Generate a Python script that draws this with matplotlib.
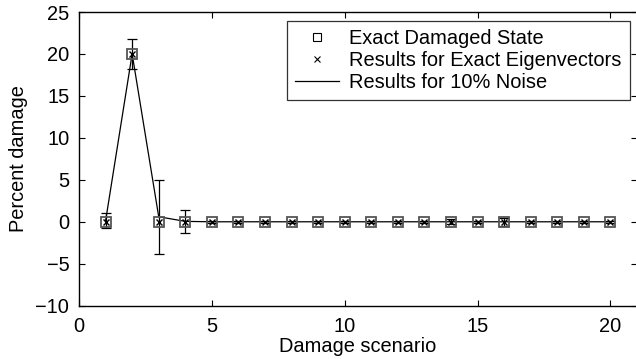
import matplotlib
matplotlib.use("Agg")
import matplotlib.pyplot as plt
from matplotlib.lines import Line2D

plt.rcParams['font.family'] = ['Liberation Sans', 'DejaVu Sans']

# data
scenarios = list(range(1, 21))
exact_state = [0, 20] + [0] * 18
exact_eigvec = [0, 20] + [0] * 18
noise_mean = [0.1, 20.0, 0.6, 0.05] + [0] * 16
noise_err = [0.9, 1.8, 4.4, 1.4, 0.1, 0.1, 0.1, 0.1, 0.1, 0.1,
             0.1, 0.1, 0.1, 0.3, 0.1, 0.5, 0.1, 0.1, 0.1, 0.1]

fs = 14.4

fig = plt.figure(figsize=(6.36, 3.59), dpi=100)
ax = fig.add_axes([79 / 636, 53.3 / 359, 558 / 636, 293.7 / 359])

ax.errorbar(scenarios, noise_mean, yerr=noise_err, color='black', lw=0.9,
            elinewidth=0.9, capsize=3.5, capthick=0.9, zorder=2)
ax.plot(scenarios, exact_state, linestyle='none', marker='s', ms=7,
        mfc='none', mec='#555555', mew=1.3, zorder=3)
ax.plot(scenarios, exact_eigvec, linestyle='none', marker='x', ms=4.5,
        color='black', mew=1.0, zorder=4)

ax.set_xlim(0, 21)
ax.set_ylim(-10, 25)
ax.set_xticks([0, 5, 10, 15, 20])
ax.set_yticks([-10, -5, 0, 5, 10, 15, 20, 25])
ax.set_yticklabels(['\u221210', '\u22125', '0', '5', '10', '15', '20', '25'])
ax.tick_params(direction='in', top=True, right=True, labelsize=fs,
               length=4, width=0.8)
ax.tick_params(axis='y', pad=7)
ax.tick_params(axis='x', pad=8)
for s in ax.spines.values():
    s.set_linewidth(1.0)
ax.spines['right'].set_visible(False)

ax.set_xlabel('Damage scenario', fontsize=fs, labelpad=1)
ax.set_ylabel('Percent damage', fontsize=fs, labelpad=5)

handles = [
    Line2D([], [], linestyle='none', marker='s', ms=6, mfc='none',
           mec='black', mew=0.8),
    Line2D([], [], linestyle='none', marker='x', ms=5, color='black', mew=0.8),
    Line2D([], [], color='black', lw=0.9),
]
labels = ['Exact Damaged State', 'Results for Exact Eigenvectors',
          'Results for 10% Noise']
leg = ax.legend(handles, labels, loc='upper right',
                bbox_to_anchor=(629.5 / 636, 1 - 21 / 359),
                bbox_transform=fig.transFigure, borderaxespad=0,
                fontsize=fs, frameon=True, fancybox=False,
                edgecolor='black', handlelength=2.2, handletextpad=0.5,
                labelspacing=0.15, borderpad=0.4)
leg.get_frame().set_linewidth(0.9)

fig.savefig('out.png', dpi=100)
